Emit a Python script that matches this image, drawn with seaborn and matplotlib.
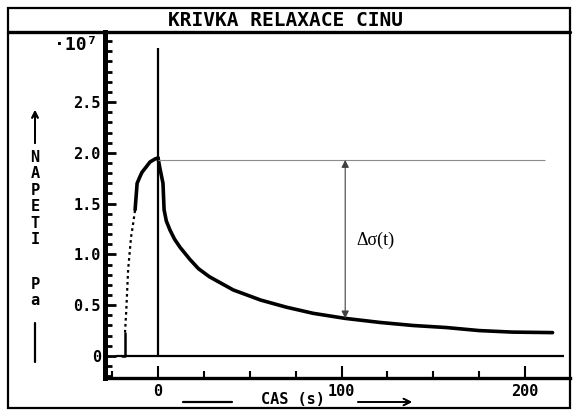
import numpy as np
import pandas as pd
import matplotlib
matplotlib.use("Agg")
import matplotlib.pyplot as plt
import seaborn as sns
from matplotlib.patches import Rectangle
from matplotlib.lines import Line2D
from matplotlib.ticker import MultipleLocator

# Relaxation curve data (stress in 1e7 Pa, time in s)
rise_t = [-19.5, -18.0, -18.0]
rise_sigma = [0.0, 0.0, 0.23]
ramp_t = [-18.0, -17.3, -16.8, -16.3, -14.7, -13.6, -12.5]
ramp_sigma = [0.23, 0.45, 0.65, 0.85, 1.17, 1.30, 1.44]
top_t = [-12.5, -11.4, -10.0, -8.7, -6.5, -4.4, -1.6, 0.0]
top_sigma = [1.44, 1.70, 1.76, 1.81, 1.86, 1.91, 1.94, 1.95]
decay_t = [0.0, 1.0, 2.7, 3.3, 4.5, 6.5, 9.0, 12.0, 17.4, 22.0, 28.0, 41.0, 56.0, 70.0,
           84.5, 102.0, 121.0, 139.0, 157.0, 175.0, 193.0, 215.0]
decay_sigma = [1.95, 1.85, 1.70, 1.44, 1.33, 1.24, 1.15, 1.07, 0.95, 0.86, 0.78, 0.65,
               0.55, 0.48, 0.42, 0.37, 0.33, 0.30, 0.28, 0.25, 0.235, 0.23]

peak_level = 1.93
delta_t = 102.0
delta_low = 0.37

xticks = [0, 100, 200]
xtick_labels = ["0", "100", "200"]
yticks = [0, 0.5, 1.0, 1.5, 2.0, 2.5]
ytick_labels = ["0", "0.5", "1.0", "1.5", "2.0", "2.5"]

sns.set_style("white")
plt.rcParams["font.family"] = ["DejaVu Sans Mono", "DejaVu Sans"]
plt.rcParams["text.color"] = "black"
plt.rcParams["xtick.color"] = "black"
plt.rcParams["ytick.color"] = "black"

W, H = 576, 412
fig = plt.figure(figsize=(W / 100, H / 100), dpi=100)
ax = fig.add_axes([105 / W, 1 - 378 / H, (570 - 105) / W, (378 - 32) / H])

# curve pieces
sns.lineplot(x=rise_t, y=rise_sigma, sort=False, estimator=None, color="black", lw=1.8, ax=ax)
sns.lineplot(x=ramp_t, y=ramp_sigma, sort=False, estimator=None, color="black", lw=1.6,
             linestyle=(0, (1.2, 1.5)), ax=ax)
sns.lineplot(x=top_t, y=top_sigma, sort=False, estimator=None, color="black", lw=2.6, ax=ax)
sns.lineplot(x=decay_t, y=decay_sigma, sort=False, estimator=None, color="black", lw=2.6, ax=ax)

# reference lines
ax.hlines(0, -23, 221, color="black", lw=1.6)
ax.vlines(0, 0, 3.03, color="black", lw=1.6)
ax.hlines(peak_level, 0, 211, color="0.55", lw=0.8)
ax.annotate("", xy=(delta_t, peak_level), xytext=(delta_t, delta_low),
            arrowprops=dict(arrowstyle="<|-|>", color="0.25", lw=0.8, mutation_scale=11,
                            shrinkA=0, shrinkB=0))
ax.text(delta_t + 6, 1.14, "Δσ(t)", fontfamily="Liberation Serif", fontsize=13, va="center")

ax.set_xlim(-28.9, 224.5)
ax.set_ylim(-0.217, 3.19)
ax.set_xticks(xticks, labels=xtick_labels)
ax.set_yticks(yticks, labels=ytick_labels)
ax.xaxis.set_minor_locator(MultipleLocator(25))
ax.yaxis.set_minor_locator(MultipleLocator(0.1))
ax.tick_params(axis="y", which="major", direction="in", length=8, width=2, pad=3,
               labelsize=11, left=True)
ax.tick_params(axis="y", which="minor", direction="in", length=5, width=2, left=True)
ax.tick_params(axis="x", which="major", direction="in", length=9, width=1.5, pad=4,
               labelsize=11, bottom=True)
ax.tick_params(axis="x", which="minor", direction="in", length=5, width=1.5, bottom=True)
for lab in ax.get_xticklabels() + ax.get_yticklabels():
    lab.set_fontweight("bold")
for side in ["top", "right"]:
    ax.spines[side].set_visible(False)
ax.spines["left"].set_linewidth(3.6)
ax.spines["bottom"].set_linewidth(2.4)
ax.spines["left"].set_color("black")
ax.spines["bottom"].set_color("black")

# outer frame and title bar
fig.add_artist(Rectangle((8 / W, 4 / H), (570 - 8) / W, (408 - 8) / H, transform=fig.transFigure,
                         fill=False, lw=1.6, edgecolor="black"))
fig.add_artist(Line2D([8 / W, 570 / W], [1 - 32 / H] * 2, transform=fig.transFigure,
                      color="black", lw=2.4))
fig.text(285 / W, 1 - 20 / H, "KRIVKA RELAXACE CINU", ha="center", va="center",
         fontsize=14, fontweight="bold")

# y scale factor and label
fig.text(97 / W, 1 - 45 / H, "·10⁷", ha="right", va="center", fontsize=13, fontweight="bold")
fig.text(35 / W, 1 - 150 / H, "N\nA\nP\nE\nT\nI", ha="center", va="top", fontsize=11,
         fontweight="bold", linespacing=1.12)
fig.text(35 / W, 1 - 277 / H, "P\na", ha="center", va="top", fontsize=11,
         fontweight="bold", linespacing=1.12)
fig.add_artist(Line2D([35 / W] * 2, [1 - 362 / H, 1 - 323 / H], transform=fig.transFigure,
                      color="black", lw=1.6))
fig.add_artist(plt.annotate("", xy=(35 / W, 1 - 110 / H), xytext=(35 / W, 1 - 143 / H),
                            xycoords="figure fraction",
                            arrowprops=dict(arrowstyle="->", color="black", lw=1.4,
                                            mutation_scale=10, shrinkA=0, shrinkB=0)))

# x label
fig.text(293 / W, 1 - 399 / H, "CAS (s)", ha="center", va="center", fontsize=11,
         fontweight="bold")
fig.add_artist(Line2D([183 / W, 232 / W], [1 - 402 / H] * 2, transform=fig.transFigure,
                      color="black", lw=1.6))
fig.add_artist(plt.annotate("", xy=(412 / W, 1 - 402 / H), xytext=(358 / W, 1 - 402 / H),
                            xycoords="figure fraction",
                            arrowprops=dict(arrowstyle="->", color="black", lw=1.2,
                                            mutation_scale=12, shrinkA=0, shrinkB=0)))

fig.savefig("out.png", dpi=100)
